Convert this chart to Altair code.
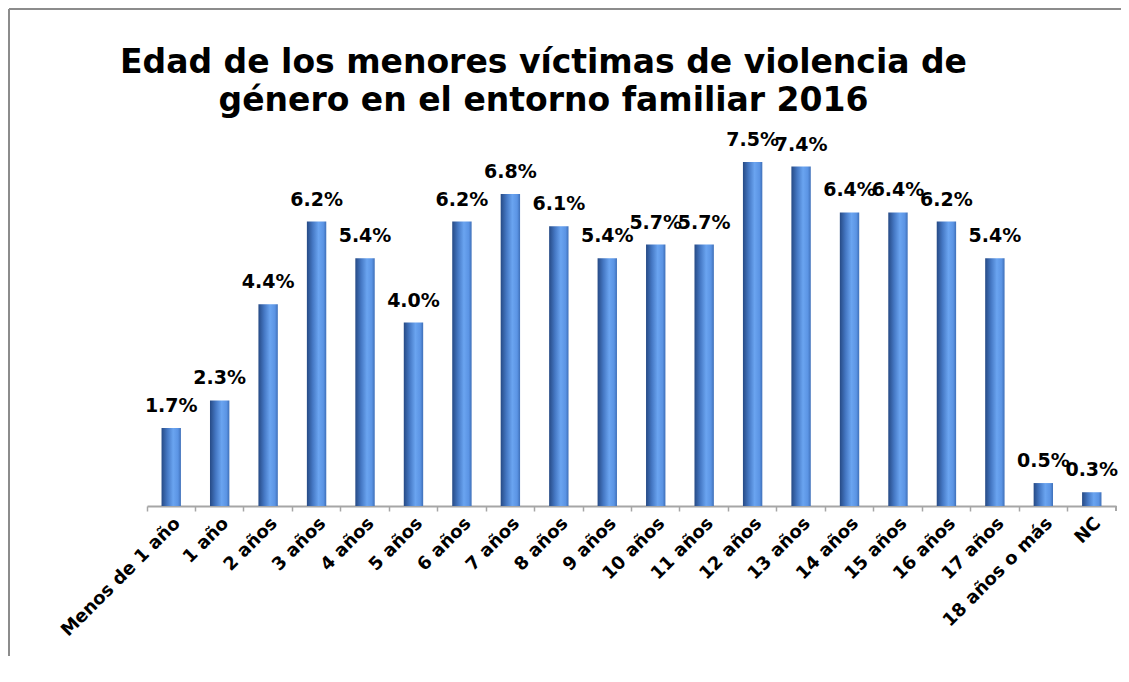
import altair as alt
import pandas as pd

categories = ["Menos de 1 año", "1 año", "2 años", "3 años", "4 años", "5 años",
              "6 años", "7 años", "8 años", "9 años", "10 años", "11 años",
              "12 años", "13 años", "14 años", "15 años", "16 años", "17 años",
              "18 años o más", "NC"]
values = [1.7, 2.3, 4.4, 6.2, 5.4, 4.0, 6.2, 6.8, 6.1, 5.4, 5.7, 5.7,
          7.5, 7.4, 6.4, 6.4, 6.2, 5.4, 0.5, 0.3]
title_lines = ["Edad de los menores víctimas de violencia de",
               "género en el entorno familiar 2016"]

df = pd.DataFrame({"edad": categories, "pct": values,
                   "label": [f"{v:.1f}%" for v in values]})

W, H = 969, 367
PL, PT, PR, PB = 139, 131, 5, 150
FONT = "DejaVu Sans"

x_enc = alt.X("edad:N", sort=categories, title=None,
              scale=alt.Scale(paddingInner=0, paddingOuter=0),
              axis=alt.Axis(labelAngle=-45, labelFont=FONT, labelFontSize=18,
                            labelFontWeight="bold", labelColor="black",
                            domainColor="#a6a6a6", domainWidth=2,
                            tickColor="#a6a6a6", tickWidth=1.5, tickSize=5,
                            bandPosition=0, labelPadding=3, grid=False))
y_enc = alt.Y("pct:Q", scale=alt.Scale(domain=[0, 8]), axis=None)

grad = alt.Gradient(
    gradient="linear", x1=0, x2=1, y1=0, y2=0,
    stops=[alt.GradientStop(color="#264a85", offset=0),
           alt.GradientStop(color="#4578c4", offset=0.3),
           alt.GradientStop(color="#6aa4f0", offset=0.6),
           alt.GradientStop(color="#5b94e4", offset=0.85),
           alt.GradientStop(color="#3e6fb8", offset=1)])

bars = alt.Chart(df).mark_bar(color=grad, width={"band": 0.4}).encode(x=x_enc, y=y_enc)

labels = alt.Chart(df).mark_text(font=FONT, fontSize=19, fontWeight="bold",
                                 color="black", baseline="alphabetic", dy=-16).encode(
    x=alt.X("edad:N", sort=categories), y="pct:Q", text="label:N")

end_tick = alt.Chart(df).mark_rule(color="#a6a6a6", strokeWidth=1.5).encode(
    x=alt.value(W), y=alt.value(H), y2=alt.value(H + 5))

frame_top = alt.Chart(df).mark_rule(color="#8c8c8c", strokeWidth=2).encode(
    x=alt.value(-PL + 1), x2=alt.value(W + PR), y=alt.value(-PT + 1))
frame_left = alt.Chart(df).mark_rule(color="#8c8c8c", strokeWidth=2).encode(
    x=alt.value(-PL + 1), y=alt.value(-PT + 1), y2=alt.value(H + PB))

chart = alt.layer(frame_top, frame_left, bars, labels, end_tick).properties(
    width=W, height=H,
    background="white",
    title=alt.TitleParams(text=title_lines, font=FONT, fontSize=33, fontWeight="bold",
                          color="black", anchor="middle", frame="group", dx=-88,
                          offset=-110, lineHeight=38),
    autosize=alt.AutoSizeParams(type="none"),
    padding={"left": PL, "top": PT, "right": PR, "bottom": PB},
).configure_view(stroke="transparent", strokeWidth=0)

chart.save("out.html", embed_options={"renderer": "svg", "actions": False})
